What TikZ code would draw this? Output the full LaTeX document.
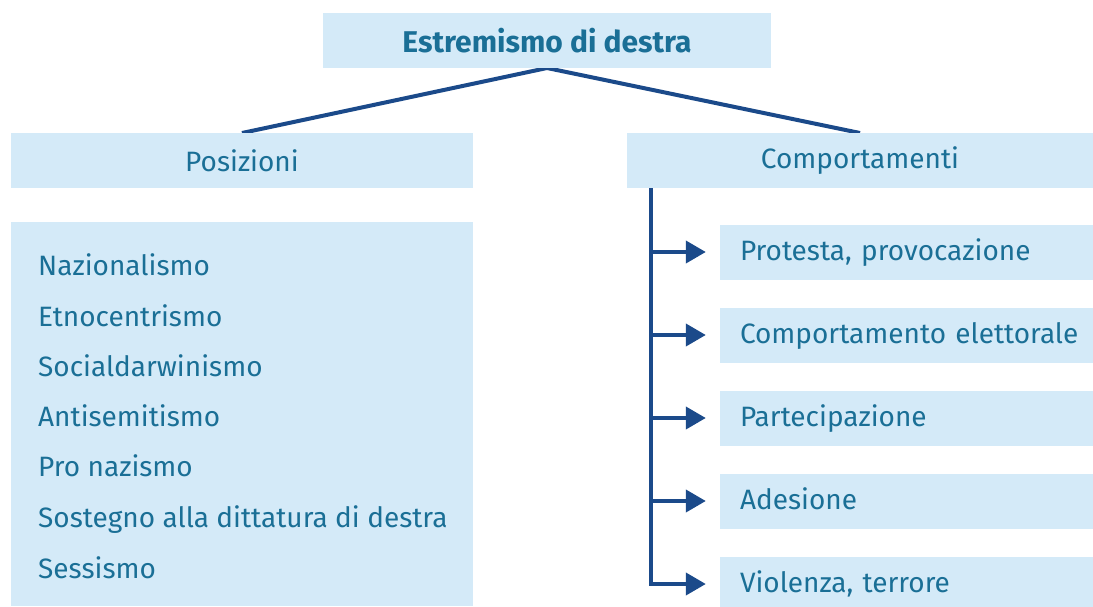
\documentclass[tikz,border=0pt]{standalone}
\usepackage{fontspec}
\setmainfont{Fira Sans}
\usetikzlibrary{arrows.meta}

\definecolor{boxfill}{HTML}{D4EAF8}
\definecolor{boxtext}{HTML}{1A6F96}
\definecolor{linkblue}{HTML}{1B4A8A}

\tikzset{
	hbox/.style={fill=boxfill,text=boxtext,inner sep=0pt,minimum height=55pt,font=\fontsize{28}{33}\selectfont},
	listentry/.style={text=boxtext,anchor=base west,inner sep=0pt,font=\fontsize{28}{33}\selectfont},
	link/.style={draw=linkblue,line width=4pt},
	tip/.style={-{Triangle[length=20pt,width=22pt]}}
}

\begin{document}
\begin{tikzpicture}[x=1pt,y=-1pt]
		\useasboundingbox (0,0) rectangle (1093,606);
		% the two branches
		\draw[link] (547,68) -- (242,133);
		\draw[link] (547,68) -- (860,133);
		\node[hbox,minimum width=448pt,font=\fontsize{30}{35}\selectfont\bfseries] (root) at (547,40.5) {Estremismo di destra};
		\node[hbox,minimum width=462pt] (pos) at (242,160.5) {Posizioni};
		\node[hbox,minimum width=466pt] (comp) at (860,160.5) {Comportamenti};
		% left list
		\fill[boxfill] (11,222) rectangle (473,606);
		\foreach \y/\txt [count=\i] in {265/Nazionalismo,316/Etnocentrismo,366/Socialdarwinismo,416/Antisemitismo,466/Pro nazismo,517/Sostegno alla dittatura di destra,568/Sessismo}
			\node[listentry] (pitem\i) at (38,\y+10) {\txt};
		% right list with arrows
		\coordinate (trunk) at (651,188);
		\foreach \y/\txt [count=\i] in {252/{Protesta, provocazione},335/Comportamento elettorale,418/Partecipazione,501/Adesione,584/{Violenza, terrore}}{
			\node[hbox,minimum width=373pt,text width=353pt,align=left,text height=21pt,text depth=5pt] (citem\i) at (906.5,\y) {\hspace*{10pt}\txt};
			\draw[link,tip,shorten >=14pt] (trunk) |- (citem\i.west);
		}
	\end{tikzpicture}
\end{document}
